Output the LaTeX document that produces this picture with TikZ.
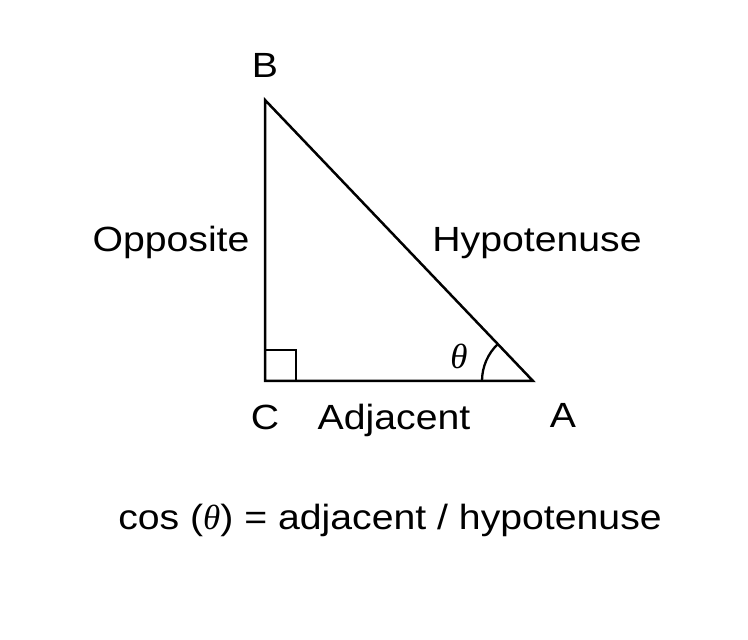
\documentclass[tikz,border=0pt]{standalone}
\usepackage{fontspec}
\setmainfont[FakeStretch=1.12]{Liberation Sans}
\newfontfamily\thfont{Liberation Serif}
\newcommand{\mytheta}{{\thfont\itshape θ}}
\begin{document}
\begin{tikzpicture}[x=1pt,y=1pt,
  lbl/.style={font=\fontsize{35}{42}\selectfont, inner sep=0pt, anchor=base},
  edge/.style={line width=2.5pt, line join=miter}]
\useasboundingbox (0,0) rectangle (748,640);
\coordinate (C) at (265,259);
\coordinate (B) at (265,540);
\coordinate (A) at (533,259);
\draw[edge] (B) -- (C) -- (A) -- cycle;
\draw[line width=2.3pt] (265,290) -- (296,290) -- (296,259);
\draw[line width=2.3pt] ([xshift=-51pt]A) arc[start angle=180, end angle=133.6, radius=51pt];
\node[lbl] (lB) at (265,562) {B};
\node[lbl] (lC) at (265,210) {C};
\node[lbl] (lA) at (563,212) {A};
\node[lbl] (lopp) at (171,388) {Opposite};
\node[lbl] (lhyp) at (537,388) {Hypotenuse};
\node[lbl] (ladj) at (394,210) {Adjacent};
\node[lbl] (lth) at (459,271) {\mytheta};
\node[lbl] (leq) at (390,110) {cos (\mytheta) = adjacent / hypotenuse};
\end{tikzpicture}
\end{document}
